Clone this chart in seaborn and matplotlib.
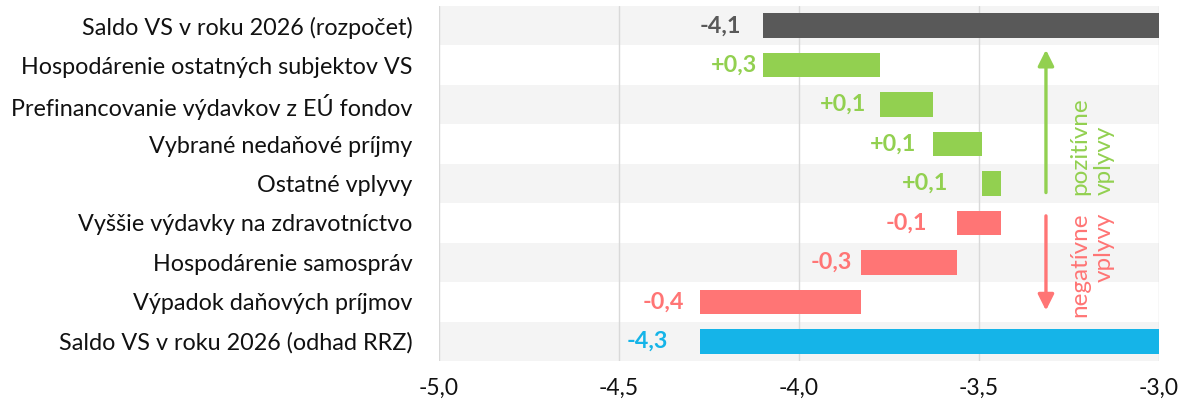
import numpy as np
import pandas as pd
import matplotlib
matplotlib.use('Agg')
import matplotlib.pyplot as plt
import seaborn as sns
from matplotlib.transforms import blended_transform_factory


categories = ['Saldo VS v roku 2026 (rozpočet)',
              'Hospodárenie ostatných subjektov VS',
              'Prefinancovanie výdavkov z EÚ fondov',
              'Vybrané nedaňové príjmy',
              'Ostatné vplyvy',
              'Vyššie výdavky na zdravotníctvo',
              'Hospodárenie samospráv',
              'Výpadok daňových príjmov',
              'Saldo VS v roku 2026 (odhad RRZ)']
values = [-4.10, 0.325, 0.147, 0.136, 0.053, -0.122, -0.267, -0.447, -4.275]
kinds = ['start', 'plus', 'plus', 'plus', 'plus', 'minus', 'minus', 'minus', 'end']
x_ticks = [-5.0, -4.5, -4.0, -3.5, -3.0]
tick_labels = ['-5,0', '-4,5', '-4,0', '-3,5', '-3,0']

colors = {'start': '#595959', 'plus': '#92D050', 'minus': '#FF7575', 'end': '#15B4E8'}
label_pad = [22, 6, 14, 17, 34, 30, 9, 16, 32]  # px between value label and bar

# waterfall: the two totals grow from zero, the deltas float on the running sum
lefts, widths = [], []
running = 0.0
for v, k in zip(values, kinds):
    if k in ('start', 'end'):
        lefts.append(0.0)
        running = v
    else:
        lefts.append(running)
        running += v
    widths.append(v)

df = pd.DataFrame({'label': categories, 'width': widths})

sns.set_theme(style='white')
plt.rcParams['font.family'] = ['Lato', 'DejaVu Sans']

fig = plt.figure(figsize=(11.85, 4.05), dpi=100)
ax = fig.add_axes([439 / 1185, 1 - 361 / 405, 720 / 1185, 355 / 405])

sns.barplot(data=df, x='width', y='label', orient='y', left=lefts, width=0.62,
            errorbar=None, color='#595959', linewidth=0, zorder=3, ax=ax)
bars = list(ax.patches)
for bar, k in zip(bars, kinds):
    bar.set_facecolor(colors[k])

# alternating row bands
for i in range(0, len(categories), 2):
    ax.axhspan(i - 0.5, i + 0.5, color='#F4F4F4', zorder=0, lw=0)

ax.set_xlim(-5, -3)
ax.set_ylim(len(categories) - 0.5, -0.5)
ax.set_xticks(x_ticks)
ax.set_xticklabels(tick_labels)
ax.set_axisbelow(True)
ax.grid(axis='x', color='#D9D9D9', lw=1)
ax.grid(axis='y', visible=False)
sns.despine(ax=ax, left=True, bottom=True)
ax.set_xlabel(None)
ax.set_ylabel(None)
ax.tick_params(axis='x', length=0, pad=12, labelsize=16.5, labelcolor='#111111')
ax.tick_params(axis='y', length=0, pad=19, labelsize=16.8, labelcolor='#111111')

# value labels left of each bar
for i, (v, k) in enumerate(zip(values, kinds)):
    if k in ('start', 'end'):
        anchor = v
        txt = f'{v:.1f}'.replace('.', ',')
    else:
        anchor = min(lefts[i], lefts[i] + v)
        txt = f'{v:+.1f}'.replace('.', ',')
    ax.annotate(txt, xy=(anchor, i), xytext=(-label_pad[i], 0), textcoords='offset pixels',
                ha='right', va='center', fontsize=16.8, fontweight='bold', color=colors[k])

# arrows and side notes
tr = blended_transform_factory(ax.transAxes, ax.transData)
ax.annotate('', xy=(0.843, 0.54), xytext=(0.843, 4.3), xycoords=tr, textcoords=tr,
            arrowprops=dict(arrowstyle='-|>', color=colors['plus'], lw=2.4, mutation_scale=24))
ax.annotate('', xy=(0.843, 7.29), xytext=(0.843, 4.75), xycoords=tr, textcoords=tr,
            arrowprops=dict(arrowstyle='-|>', color=colors['minus'], lw=2.4, mutation_scale=24))
ax.text(0.907, 4.3, 'pozitívne\nvplyvy', transform=tr, rotation=90, ha='center', va='bottom',
        multialignment='left', fontsize=17.5, color=colors['plus'])
ax.text(0.907, 4.73, 'negatívne\nvplyvy', transform=tr, rotation=90, ha='center', va='top',
        multialignment='right', fontsize=17.5, color=colors['minus'])

fig.savefig('out.png', dpi=100)
